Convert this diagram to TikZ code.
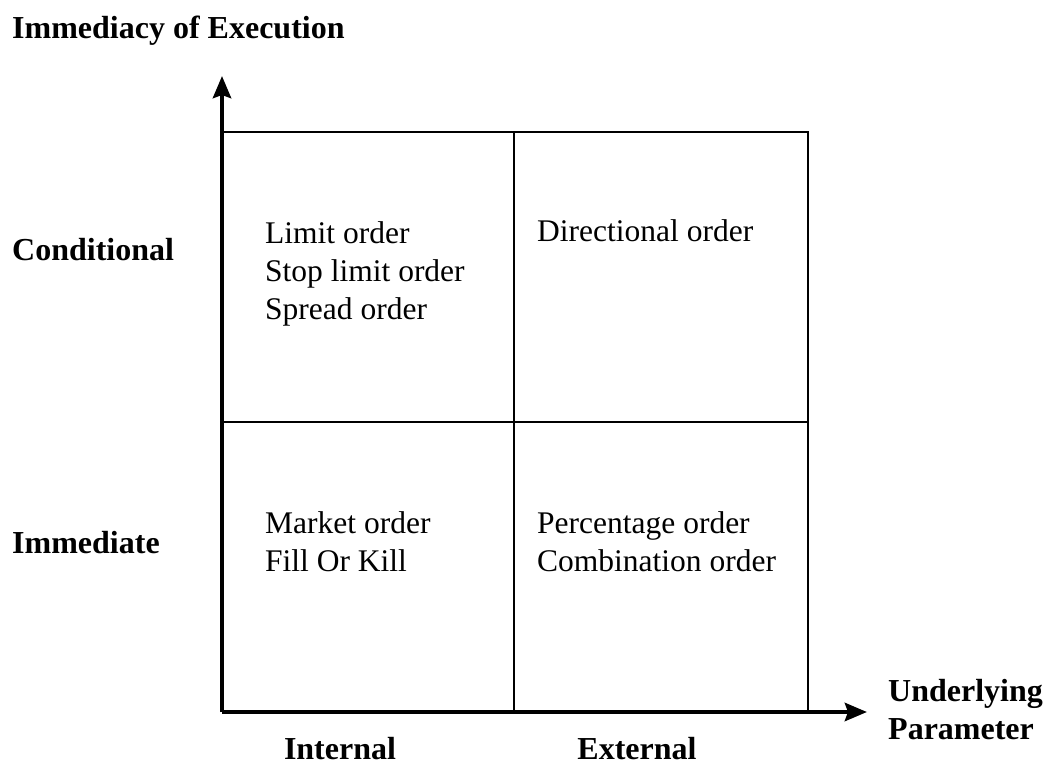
\documentclass[tikz,border=0pt]{standalone}
\usepackage{fontspec}
\setmainfont{Liberation Serif}
\usetikzlibrary{arrows.meta}
\begin{document}
\begin{tikzpicture}[x=1pt,y=-1pt,
  axis/.style={line width=4.5pt,-{Stealth[length=22pt,width=18pt,inset=3pt]}},
  grid/.style={line width=2.2pt},
  lbl/.style={font=\fontsize{32}{38}\selectfont\bfseries,inner sep=0pt},
  cell/.style={font=\fontsize{31.5}{38}\selectfont,inner sep=0pt,anchor=base west,align=left}]
\useasboundingbox (0,0) rectangle (1050,764);
% grid
\coordinate (o) at (222,712);
\coordinate (ytip) at (222,76);
\coordinate (xtip) at (867,712);
\draw[grid] (222,132) -- (808,132) -- (808,712);
\draw[grid] (514,132) -- (514,712);
\draw[grid] (222,422) -- (808,422);
\draw[axis] (o) -- (ytip);
\draw[axis] (o) -- (xtip);
% axis labels
\node[lbl,anchor=base west] (ytitle) at (12,38) {Immediacy of Execution};
\node[lbl,anchor=base west] (cond) at (12,260) {Conditional};
\node[lbl,anchor=base west] (imm) at (12,553) {Immediate};
\node[lbl,anchor=base] (int) at (340,759) {Internal};
\node[lbl,anchor=base] (ext) at (637,759) {External};
\node[lbl,anchor=base west] (und) at (888,701) {Underlying};
\node[lbl,anchor=base west] (par) at (888,739) {Parameter};
% cells
\node[cell] (c1a) at (265,243) {Limit order};
\node[cell] (c1b) at (265,281) {Stop limit order};
\node[cell] (c1c) at (265,319) {Spread order};
\node[cell] (c2) at (537,241) {Directional order};
\node[cell] (c3a) at (265,533) {Market order};
\node[cell] (c3b) at (265,571) {Fill Or Kill};
\node[cell] (c4a) at (537,533) {Percentage order};
\node[cell] (c4b) at (537,571) {Combination order};
\end{tikzpicture}
\end{document}
